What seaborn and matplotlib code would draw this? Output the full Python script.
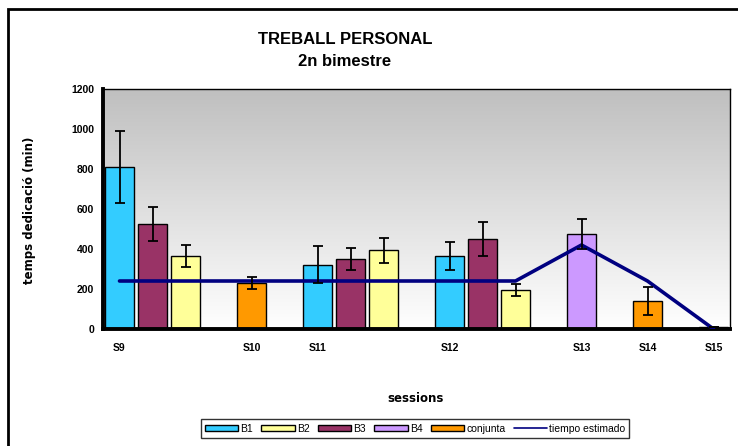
import numpy as np
import pandas as pd
import matplotlib
matplotlib.use('Agg')
import matplotlib.pyplot as plt
import seaborn as sns
from matplotlib.patches import Patch, Rectangle
from matplotlib.lines import Line2D

# slots along the x axis (Excel style, one category per bar)
slot_labels = ["S9", "", "", "", "S10", "", "S11", "", "", "",
               "S12", "", "", "", "S13", "", "S14", "", "S15"]
slot_series = ["B1", "B3", "B2", None, "conjunta", None, "B1", "B3", "B2", None,
               "B1", "B3", "B2", None, "B4", None, "conjunta", None, "conjunta"]
slot_values = [810, 525, 365, np.nan, 230, np.nan, 322, 352, 393, np.nan,
               365, 450, 195, np.nan, 475, np.nan, 140, np.nan, 8]
slot_errors = [180, 83, 55, np.nan, 30, np.nan, 93, 55, 62, np.nan,
               68, 83, 31, np.nan, 77, np.nan, 70, np.nan, 0]
estimated = [240, 240, 240, 240, 240, 240, 240, 240, 240, 240,
             240, 240, 240, np.nan, 420, np.nan, 240, np.nan, 0]

series_order = ["B1", "B2", "B3", "B4", "conjunta"]
colors = {"B1": "#33CCFF", "B2": "#FFFF99", "B3": "#993366",
          "B4": "#CC99FF", "conjunta": "#FF9900"}
line_color = "#000080"

df = pd.DataFrame({"slot": range(len(slot_labels)), "series": slot_series,
                   "value": slot_values, "err": slot_errors, "est": estimated})
bars = df.dropna(subset=["value"])
line = df.dropna(subset=["est"])

sns.set_style("white")
plt.rcParams.update({"text.color": "black", "axes.labelcolor": "black",
                     "xtick.color": "black", "ytick.color": "black"})
fig = plt.figure(figsize=(7.38, 4.46), dpi=100)
ax = fig.add_axes([103 / 738, 1 - 329 / 446, 627 / 738, 240 / 446])

# gray (top) -> white (bottom) background
shade = np.linspace(0.75, 1.0, 256).reshape(-1, 1)
rgb = np.repeat(shade[:, :, None], 3, axis=2)
ax.imshow(rgb, extent=[0, 1, 0, 1], transform=ax.transAxes,
          aspect="auto", origin="upper", zorder=0)

sns.barplot(data=bars, x="slot", y="value", hue="series", hue_order=series_order,
            palette=colors, order=list(range(len(slot_labels))), dodge=False,
            width=0.85, edgecolor="black", linewidth=1, errorbar=None,
            saturation=1, legend=False, ax=ax, zorder=2)
sns.lineplot(data=line, x="slot", y="est", color=line_color, linewidth=2.6,
             ax=ax, zorder=3)
ax.errorbar(bars["slot"], bars["value"], yerr=bars["err"], fmt="none",
            ecolor="black", elinewidth=1.3, capsize=3.5, capthick=1.3, zorder=4)

ax.set_xlim(-0.5, len(slot_labels) - 0.5)
ax.set_ylim(0, 1200)
ax.set_yticks(range(0, 1201, 200))
ax.set_xticks(np.arange(-0.5, len(slot_labels), 1))
ax.set_xticklabels([])
ax.set_xticks(range(len(slot_labels)), minor=True)
ax.set_xticklabels(slot_labels, minor=True)
ax.tick_params(axis="x", which="major", direction="inout", length=5, width=1.5)
ax.tick_params(axis="x", which="minor", length=0, pad=10)
ax.tick_params(axis="y", direction="inout", length=5, width=1.5, pad=4)
for lab in ax.get_yticklabels() + ax.get_xticklabels(minor=True):
    lab.set_fontfamily("Liberation Sans")
    lab.set_fontweight("bold")
    lab.set_fontsize(7.5)

for side in ["left", "bottom"]:
    ax.spines[side].set_linewidth(2.8)
    ax.spines[side].set_color("black")
for side in ["top", "right"]:
    ax.spines[side].set_linewidth(1)
    ax.spines[side].set_color("black")

ax.set_xlabel("")
ax.set_ylabel("")
fig.text(30 / 738, 1 - 210 / 446, "temps dedicació (min)", rotation=90,
         ha="center", va="center", fontsize=8.5, fontweight="bold",
         family="DejaVu Sans")
fig.text(416 / 738, 1 - 398 / 446, "sessions", ha="center", va="center",
         fontsize=8.5, fontweight="bold", family="DejaVu Sans")
fig.text(345 / 738, 1 - 40 / 446, "TREBALL PERSONAL", ha="center", va="center",
         fontsize=12, fontweight="bold", family="Liberation Sans")
fig.text(345 / 738, 1 - 61 / 446, "2n bimestre", ha="center", va="center",
         fontsize=12, fontweight="bold", family="Liberation Sans")

handles = [Patch(facecolor=colors[s], edgecolor="black", linewidth=1, label=s)
           for s in series_order]
handles.append(Line2D([0], [0], color=line_color, linewidth=1.2,
                      label="tiempo estimado"))
leg = fig.legend(handles=handles, loc="center", ncol=6,
                 bbox_to_anchor=(415 / 738, 1 - 428.5 / 446),
                 prop={"family": "Liberation Sans", "size": 7.5},
                 frameon=True, fancybox=False, edgecolor="black",
                 handlelength=3.2, handleheight=0.5, handletextpad=0.2,
                 columnspacing=0.8, borderpad=0.4)
leg.get_frame().set_linewidth(1)

# outer chart border
fig.patches.append(Rectangle((8 / 738, -0.1), 1.2, 1.1 - 9 / 446,
                             transform=fig.transFigure, fill=False,
                             edgecolor="black", linewidth=2))

fig.savefig("out.png", dpi=100)
